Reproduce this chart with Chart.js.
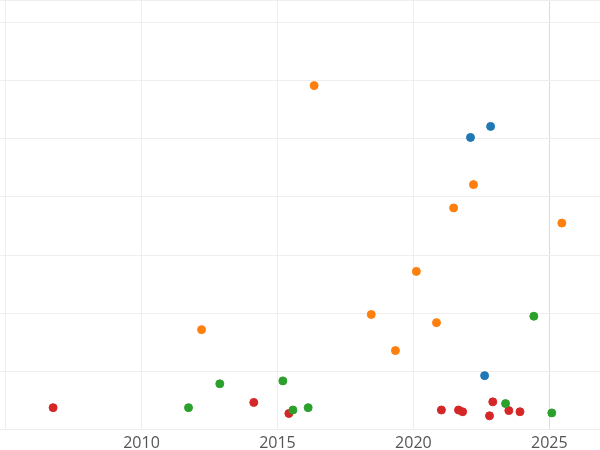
<!DOCTYPE html><html><head><script src="https://cdn.jsdelivr.net/npm/chart.js"></script>
<style>html,body{margin:0;padding:0;background:#fff;overflow:hidden;width:600px;height:450px}#w{width:612px;height:462px;margin-left:-6px;margin-top:-5px}</style></head><body><div id="w"><canvas id="c"></canvas></div>
<script>
const blueX=[2022.10,2022.84,2022.62], blueY=[5.02,5.21,0.93];
const orangeX=[2016.35,2022.21,2021.48,2025.46,2020.11,2018.45,2020.85,2019.34,2012.21];
const orangeY=[5.91,4.21,3.81,3.55,2.72,1.98,1.84,1.36,1.72];
const greenX=[2024.43,2012.88,2015.20,2011.73,2015.57,2016.13,2023.39,2025.09];
const greenY=[1.95,0.79,0.84,0.38,0.34,0.38,0.45,0.29];
const redX=[2006.75,2014.13,2015.42,2021.03,2021.66,2021.81,2022.92,2022.80,2023.51,2023.92];
const redY=[0.38,0.47,0.28,0.34,0.34,0.31,0.48,0.24,0.33,0.31];
const xTicks=[2005,2010,2015,2020,2025];
const pts=(xs,ys)=>xs.map((x,i)=>({x,y:ys[i]}));
const ds=(xs,ys,c)=>({data:pts(xs,ys),backgroundColor:c,borderColor:c,pointRadius:4,pointHoverRadius:4});
new Chart(document.getElementById('c'),{type:'scatter',
data:{datasets:[ds(blueX,blueY,'#1f77b4'),ds(orangeX,orangeY,'#ff7f0e'),ds(greenX,greenY,'#2ca02c'),ds(redX,redY,'#d62728')]},
options:{responsive:true,maintainAspectRatio:false,animation:false,layout:{padding:0},
plugins:{legend:{display:false},tooltip:{enabled:false}},
scales:{x:{type:'linear',min:2004.76,max:2026.9,
afterBuildTicks:a=>{a.ticks=xTicks.map(v=>({value:v}));},
ticks:{color:'#555',font:{family:'Open Sans',size:16},callback:v=>v===2005?'':String(v),padding:4},
grid:{color:c=>c.tick&&c.tick.value===2025?'#dcdcdc':'#eeeeee',drawTicks:false},border:{display:false}},
y:{min:0,max:7.38,ticks:{display:false,stepSize:1},grid:{color:'#eeeeee',drawTicks:false},border:{display:false}}}}});
</script></body></html>
